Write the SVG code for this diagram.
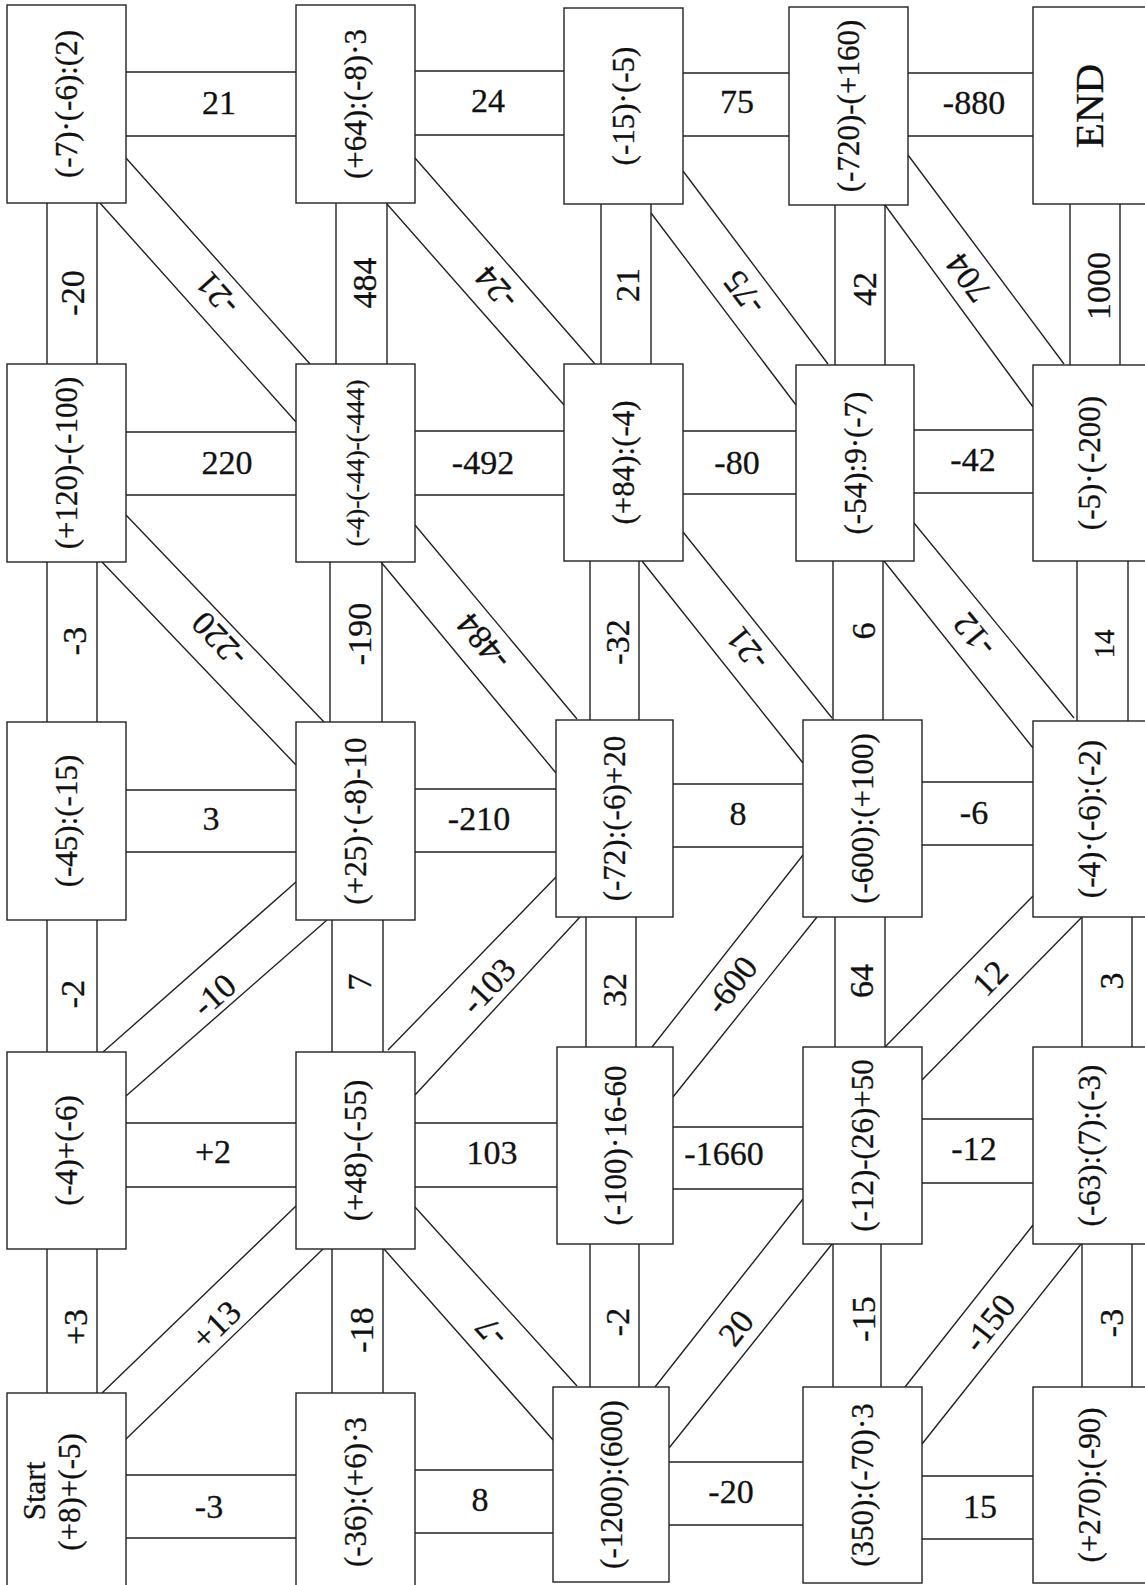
<svg xmlns="http://www.w3.org/2000/svg" width="1145" height="1585" viewBox="0 0 1145 1585">
<style>
.bg{fill:#fff}
.box{fill:#fff;stroke:#222;stroke-width:1.4}
.ln{stroke:#222;stroke-width:1.4;fill:none}
.bt{font-family:"Liberation Serif","Times New Roman",serif;font-size:31px;text-anchor:middle;dominant-baseline:central;fill:#111;stroke:#111;stroke-width:0.3}
.sm{font-size:25px}
.big{font-size:41px}
.ct{font-family:"Liberation Serif","Times New Roman",serif;font-size:34px;text-anchor:middle;dominant-baseline:central;fill:#111;stroke:#111;stroke-width:0.3}
.s14{font-size:29px}
</style>
<rect class="bg" x="0" y="0" width="1145" height="1585"/>
<g id="connectors">
<g id="h-a1-b1"><path class="ln" d="M126 72H296M126 136H296"/><text class="ct" x="219" y="102">21</text></g>
<g id="h-b1-c1"><path class="ln" d="M415 71H564M415 135H564"/><text class="ct" x="488" y="100">24</text></g>
<g id="h-c1-d1"><path class="ln" d="M683 73H789M683 136H789"/><text class="ct" x="737" y="101">75</text></g>
<g id="h-d1-e1"><path class="ln" d="M908 73H1033M908 136H1033"/><text class="ct" x="974" y="102">-880</text></g>
<g id="h-a2-b2"><path class="ln" d="M126 432H296M126 495H296"/><text class="ct" x="227" y="462">220</text></g>
<g id="h-b2-c2"><path class="ln" d="M415 431H564M415 495H564"/><text class="ct" x="483" y="462">-492</text></g>
<g id="h-c2-d2"><path class="ln" d="M683 431H796M683 494H796"/><text class="ct" x="737" y="462">-80</text></g>
<g id="h-d2-e2"><path class="ln" d="M914 430H1033M914 493H1033"/><text class="ct" x="973" y="459">-42</text></g>
<g id="h-a3-b3"><path class="ln" d="M126 790H296M126 852H296"/><text class="ct" x="211" y="818">3</text></g>
<g id="h-b3-c3"><path class="ln" d="M415 789H556M415 852H556"/><text class="ct" x="479" y="818">-210</text></g>
<g id="h-c3-d3"><path class="ln" d="M673 784H803M673 847H803"/><text class="ct" x="738" y="813">8</text></g>
<g id="h-d3-e3"><path class="ln" d="M922 782H1033M922 845H1033"/><text class="ct" x="974" y="812">-6</text></g>
<g id="h-a4-b4"><path class="ln" d="M126 1123H296M126 1187H296"/><text class="ct" x="213" y="1151">+2</text></g>
<g id="h-b4-c4"><path class="ln" d="M415 1123H557M415 1187H557"/><text class="ct" x="492" y="1152">103</text></g>
<g id="h-c4-d4"><path class="ln" d="M673 1127H803M673 1189H803"/><text class="ct" x="724" y="1153">-1660</text></g>
<g id="h-d4-e4"><path class="ln" d="M922 1119H1033M922 1183H1033"/><text class="ct" x="974" y="1148">-12</text></g>
<g id="h-a5-b5"><path class="ln" d="M126 1475H296M126 1538H296"/><text class="ct" x="209" y="1506">-3</text></g>
<g id="h-b5-c5"><path class="ln" d="M415 1470H553M415 1533H553"/><text class="ct" x="480" y="1499">8</text></g>
<g id="h-c5-d5"><path class="ln" d="M669 1462H803M669 1525H803"/><text class="ct" x="731" y="1491">-20</text></g>
<g id="h-d5-e5"><path class="ln" d="M922 1476H1033M922 1539H1033"/><text class="ct" x="980" y="1506">15</text></g>
<g id="v-a1-a2"><path class="ln" d="M47 203V364M97 203V364"/><text class="ct" x="72" y="293" transform="rotate(-90 72 293)">-20</text></g>
<g id="v-b1-b2"><path class="ln" d="M336 203V364M387 203V364"/><text class="ct" x="364" y="283" transform="rotate(-90 364 283)">484</text></g>
<g id="v-c1-c2"><path class="ln" d="M601 204V364M651 204V364"/><text class="ct" x="627" y="285" transform="rotate(-90 627 285)">21</text></g>
<g id="v-d1-d2"><path class="ln" d="M835 205V365M885 205V365"/><text class="ct" x="864" y="289" transform="rotate(-90 864 289)">42</text></g>
<g id="v-e1-e2"><path class="ln" d="M1070 204V365M1120 204V365"/><text class="ct" x="1098" y="286" transform="rotate(-90 1098 286)">1000</text></g>
<g id="v-a2-a3"><path class="ln" d="M47 562V722M97 562V722"/><text class="ct" x="74" y="641" transform="rotate(-90 74 641)">-3</text></g>
<g id="v-b2-b3"><path class="ln" d="M330 562V722M382 562V722"/><text class="ct" x="359" y="634" transform="rotate(-90 359 634)">-190</text></g>
<g id="v-c2-c3"><path class="ln" d="M590 561V720M639 561V720"/><text class="ct" x="617" y="642" transform="rotate(-90 617 642)">-32</text></g>
<g id="v-d2-d3"><path class="ln" d="M833 561V720M883 561V720"/><text class="ct" x="863" y="631" transform="rotate(-90 863 631)">6</text></g>
<g id="v-e2-e3"><path class="ln" d="M1077 561V721M1128 561V721"/><text class="ct s14" x="1104" y="644" transform="rotate(-90 1104 644)">14</text></g>
<g id="v-a3-a4"><path class="ln" d="M47 920V1052M97 920V1052"/><text class="ct" x="72" y="994" transform="rotate(-90 72 994)">-2</text></g>
<g id="v-b3-b4"><path class="ln" d="M332 920V1052M383 920V1052"/><text class="ct" x="359" y="982" transform="rotate(-90 359 982)">7</text></g>
<g id="v-c3-c4"><path class="ln" d="M586 917V1047M636 917V1047"/><text class="ct" x="614" y="990" transform="rotate(-90 614 990)">32</text></g>
<g id="v-d3-d4"><path class="ln" d="M835 917V1047M885 917V1047"/><text class="ct" x="861" y="981" transform="rotate(-90 861 981)">64</text></g>
<g id="v-e3-e4"><path class="ln" d="M1082 917V1047M1132 917V1047"/><text class="ct" x="1111" y="981" transform="rotate(-90 1111 981)">3</text></g>
<g id="v-a4-a5"><path class="ln" d="M47 1249V1393M97 1249V1393"/><text class="ct" x="75" y="1327" transform="rotate(-90 75 1327)">+3</text></g>
<g id="v-b4-b5"><path class="ln" d="M332 1249V1393M383 1249V1393"/><text class="ct" x="361" y="1330" transform="rotate(-90 361 1330)">-18</text></g>
<g id="v-c4-c5"><path class="ln" d="M590 1244V1387M639 1244V1387"/><text class="ct" x="617" y="1322" transform="rotate(-90 617 1322)">-2</text></g>
<g id="v-d4-d5"><path class="ln" d="M833 1244V1387M881 1244V1387"/><text class="ct" x="863" y="1319" transform="rotate(-90 863 1319)">-15</text></g>
<g id="v-e4-e5"><path class="ln" d="M1082 1244V1387M1132 1244V1387"/><text class="ct" x="1111" y="1323" transform="rotate(-90 1111 1323)">-3</text></g>
<g id="d-a1-b2"><path class="ln" d="M126 158L310 364M100 203L296 422"/><text class="ct" x="217" y="294" transform="rotate(-131.8 217 294)">-21</text></g>
<g id="d-b1-c2"><path class="ln" d="M415 158L595 364M387 204L564 405"/><text class="ct" x="496" y="288" transform="rotate(-131.1 496 288)">-24</text></g>
<g id="d-c1-d2"><path class="ln" d="M683 171L828 364M651 213L796 405"/><text class="ct" x="744" y="293" transform="rotate(-126.9 744 293)">-75</text></g>
<g id="d-d1-e2"><path class="ln" d="M908 155L1064 364M885 205L1033 407"/><text class="ct" x="968" y="278" transform="rotate(-126.7 968 278)">704</text></g>
<g id="d-a2-b3"><path class="ln" d="M126 515L324 722M102 562L296 765"/><text class="ct" x="219" y="640" transform="rotate(-133.7 219 640)">-220</text></g>
<g id="d-b2-c3"><path class="ln" d="M415 525L577 719M381 562L556 773"/><text class="ct" x="483" y="642" transform="rotate(-129.9 483 642)">-484</text></g>
<g id="d-c2-d3"><path class="ln" d="M683 532L832 718M642 561L803 763"/><text class="ct" x="747" y="649" transform="rotate(-128.7 747 649)">-21</text></g>
<g id="d-d2-e3"><path class="ln" d="M914 523L1074 718M884 561L1033 748"/><text class="ct" x="974" y="635" transform="rotate(-129.4 974 635)">-12</text></g>
<g id="d-a4-b3"><path class="ln" d="M103 1052L296 882M126 1096L327 920"/><text class="ct" x="214" y="995" transform="rotate(-41.4 214 995)">-10</text></g>
<g id="d-b4-c3"><path class="ln" d="M388 1050L556 877M415 1095L580 917"/><text class="ct" x="488" y="986" transform="rotate(-46.5 488 986)">-103</text></g>
<g id="d-c4-d3"><path class="ln" d="M652 1047L803 855M673 1097L817 917"/><text class="ct" x="731" y="985" transform="rotate(-51.8 731 985)">-600</text></g>
<g id="d-d4-e3"><path class="ln" d="M885 1047L1033 896M922 1080L1082 917"/><text class="ct" x="990" y="978" transform="rotate(-45.6 990 978)">12</text></g>
<g id="d-a5-b4"><path class="ln" d="M102 1393L296 1206M126 1439L323 1249"/><text class="ct" x="216" y="1325" transform="rotate(-44 216 1325)">+13</text></g>
<g id="d-b4-c5"><path class="ln" d="M415 1207L577 1386M384 1249L553 1440"/><text class="ct" x="491" y="1332" transform="rotate(-132.1 491 1332)">-7</text></g>
<g id="d-c5-d4"><path class="ln" d="M655 1387L803 1199M669 1448L832 1244"/><text class="ct" x="736" y="1328" transform="rotate(-51.8 736 1328)">20</text></g>
<g id="d-d5-e4"><path class="ln" d="M905 1387L1033 1225M922 1444L1081 1244"/><text class="ct" x="989" y="1323" transform="rotate(-51.7 989 1323)">-150</text></g>
</g>
<g id="n-a1"><rect class="box" x="7" y="5" width="119" height="198"/><text class="bt" x="66.5" y="104" transform="rotate(-90 66.5 104)">(-7)·(-6):(2)</text></g>
<g id="n-b1"><rect class="box" x="296" y="5" width="119" height="198"/><text class="bt" x="355.5" y="104" transform="rotate(-90 355.5 104)">(+64):(-8)·3</text></g>
<g id="n-c1"><rect class="box" x="564" y="8" width="119" height="196"/><text class="bt" x="623.5" y="106" transform="rotate(-90 623.5 106)">(-15)·(-5)</text></g>
<g id="n-d1"><rect class="box" x="789" y="7" width="119" height="198"/><text class="bt" x="848.5" y="106" transform="rotate(-90 848.5 106)">(-720)-(+160)</text></g>
<g id="n-e1"><rect class="box" x="1033" y="7" width="130" height="197"/><text class="bt big" x="1089" y="106" transform="rotate(-90 1089 106)">END</text></g>
<g id="n-a2"><rect class="box" x="7" y="364" width="119" height="198"/><text class="bt" x="66.5" y="463" transform="rotate(-90 66.5 463)">(+120)-(-100)</text></g>
<g id="n-b2"><rect class="box" x="296" y="364" width="119" height="198"/><text class="bt sm" x="355.5" y="463" transform="rotate(-90 355.5 463)">(-4)-(-44)-(-444)</text></g>
<g id="n-c2"><rect class="box" x="564" y="364" width="119" height="197"/><text class="bt" x="623.5" y="462.5" transform="rotate(-90 623.5 462.5)">(+84):(-4)</text></g>
<g id="n-d2"><rect class="box" x="796" y="365" width="118" height="196"/><text class="bt" x="855" y="463" transform="rotate(-90 855 463)">(-54):9·(-7)</text></g>
<g id="n-e2"><rect class="box" x="1033" y="365" width="130" height="196"/><text class="bt" x="1089" y="463" transform="rotate(-90 1089 463)">(-5)·(-200)</text></g>
<g id="n-a3"><rect class="box" x="7" y="722" width="119" height="198"/><text class="bt" x="66.5" y="821" transform="rotate(-90 66.5 821)">(-45):(-15)</text></g>
<g id="n-b3"><rect class="box" x="296" y="722" width="119" height="198"/><text class="bt" x="355.5" y="821" transform="rotate(-90 355.5 821)">(+25)·(-8)-10</text></g>
<g id="n-c3"><rect class="box" x="556" y="720" width="117" height="197"/><text class="bt" x="614.5" y="818.5" transform="rotate(-90 614.5 818.5)">(-72):(-6)+20</text></g>
<g id="n-d3"><rect class="box" x="803" y="720" width="119" height="197"/><text class="bt" x="862.5" y="818.5" transform="rotate(-90 862.5 818.5)">(-600):(+100)</text></g>
<g id="n-e3"><rect class="box" x="1033" y="721" width="130" height="196"/><text class="bt" x="1089" y="819" transform="rotate(-90 1089 819)">(-4)·(-6):(-2)</text></g>
<g id="n-a4"><rect class="box" x="7" y="1052" width="119" height="197"/><text class="bt" x="66.5" y="1150.5" transform="rotate(-90 66.5 1150.5)">(-4)+(-6)</text></g>
<g id="n-b4"><rect class="box" x="296" y="1052" width="119" height="197"/><text class="bt" x="355.5" y="1150.5" transform="rotate(-90 355.5 1150.5)">(+48)-(-55)</text></g>
<g id="n-c4"><rect class="box" x="557" y="1047" width="116" height="197"/><text class="bt" x="615" y="1145.5" transform="rotate(-90 615 1145.5)">(-100)·16-60</text></g>
<g id="n-d4"><rect class="box" x="803" y="1047" width="119" height="197"/><text class="bt" x="862.5" y="1145.5" transform="rotate(-90 862.5 1145.5)">(-12)-(26)+50</text></g>
<g id="n-e4"><rect class="box" x="1033" y="1047" width="130" height="197"/><text class="bt" x="1089" y="1145.5" transform="rotate(-90 1089 1145.5)">(-63):(7):(-3)</text></g>
<g id="n-a5"><rect class="box" x="7" y="1393" width="119" height="210"/><text class="bt" x="34" y="1491" transform="rotate(-90 34 1491)">Start</text><text class="bt" x="69" y="1492" transform="rotate(-90 69 1492)">(+8)+(-5)</text></g>
<g id="n-b5"><rect class="box" x="296" y="1393" width="119" height="210"/><text class="bt" x="355.5" y="1492" transform="rotate(-90 355.5 1492)">(-36):(+6)·3</text></g>
<g id="n-c5"><rect class="box" x="553" y="1387" width="116" height="195"/><text class="bt" x="611" y="1484.5" transform="rotate(-90 611 1484.5)">(-1200):(600)</text></g>
<g id="n-d5"><rect class="box" x="803" y="1387" width="119" height="196"/><text class="bt" x="862.5" y="1485" transform="rotate(-90 862.5 1485)">(350):(-70)·3</text></g>
<g id="n-e5"><rect class="box" x="1033" y="1387" width="130" height="196"/><text class="bt" x="1089" y="1485" transform="rotate(-90 1089 1485)">(+270):(-90)</text></g>
</svg>
